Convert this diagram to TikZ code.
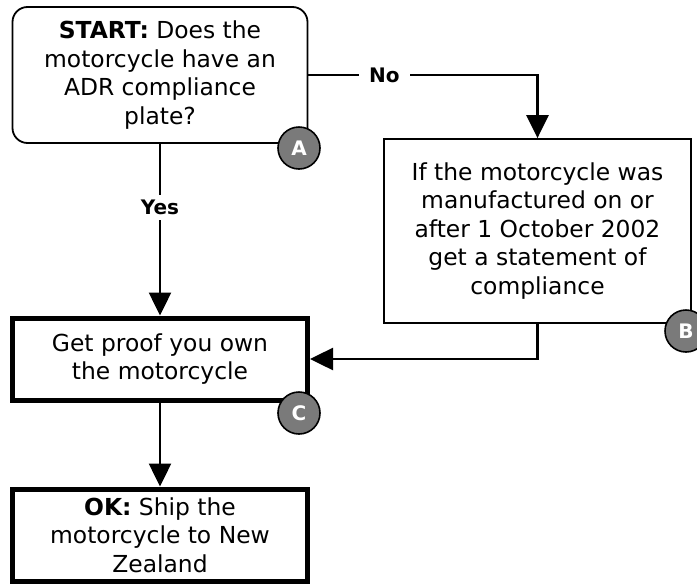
\documentclass[tikz,border=0pt]{standalone}
\usepackage{fontspec}
\setmainfont{DejaVu Sans}
\usetikzlibrary{arrows.meta}

\definecolor{badgegray}{HTML}{7A7A7A}

\tikzset{
  basebox/.style={draw=black, fill=white, align=center, inner sep=0pt,
    minimum width=295pt, font=\fontsize{23.4}{28.5}\selectfont},
  thinbox/.style={basebox, line width=1.8pt},
  thickbox/.style={basebox, line width=5pt},
  link/.style={line width=2.5pt, -{Triangle[length=23pt,width=22pt]}},
  lbl/.style={fill=white, inner xsep=10pt, inner ysep=5pt,
    font=\fontsize{20}{24}\selectfont\bfseries},
  badge/.style={circle, draw=black, line width=1.6pt, fill=badgegray,
    minimum size=42pt, inner sep=0pt, text=white,
    font=\fontsize{20}{24}\selectfont\bfseries}
}

\begin{document}
\begin{tikzpicture}[x=1pt, y=-1pt]
  \useasboundingbox (0,0) rectangle (697,587);

  % decision and step boxes
  \node[thinbox, rounded corners=15pt, minimum height=136pt] (start) at (160,75)
    {\textbf{START:} Does the\\motorcycle have an\\ADR compliance\\plate?};
  \node[thinbox, minimum width=307pt, minimum height=184pt] (soc) at (537.5,231)
    {If the motorcycle was\\manufactured on or\\after 1 October 2002\\get a statement of\\compliance};
  \node[thickbox, minimum height=82pt] (proof) at (160,359)
    {Get proof you own\\the motorcycle};
  \node[thickbox, minimum height=92pt] (ship) at (160,535)
    {\textbf{OK:} Ship the\\motorcycle to New\\Zealand};

  % connectors
  \draw[link] (start.east) -| node[lbl, pos=0.166] {No} (soc.north);
  \draw[link] (start.south) -- node[lbl, pos=0.37] {Yes} (proof.north);
  \draw[link] (soc.south) |- (proof.east);
  \draw[link] (proof.south) -- (ship.north);

  % corner badges
  \node[badge] (ba) at (299,148) {A};
  \node[badge] (bb) at (686,331) {B};
  \node[badge] (bc) at (299,413) {C};
\end{tikzpicture}
\end{document}
